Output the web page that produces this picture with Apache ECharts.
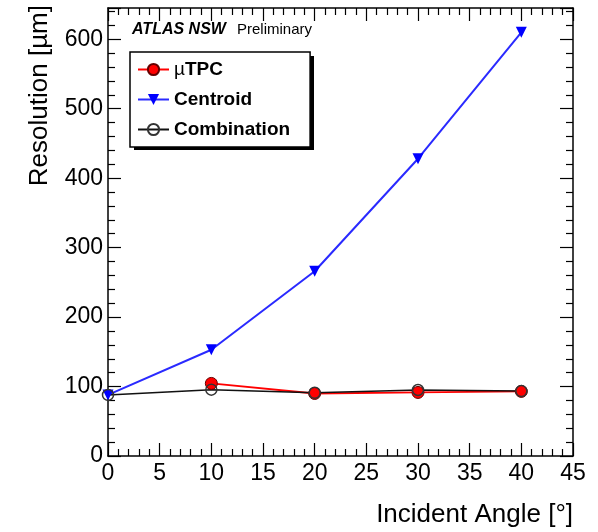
<!DOCTYPE html>
<html>
<head>
<meta charset="utf-8">
<script src="https://cdn.jsdelivr.net/npm/echarts@6/dist/echarts.min.js"></script>
<style>
  html, body { margin: 0; padding: 0; background: #fff; }
  #chart { width: 598px; height: 532px; }
</style>
</head>
<body>
<div id="chart"></div>
<script>
// angles [deg] and resolution [um]
var angles = [0, 10, 20, 30, 40];
var tpcAngles = [10, 20, 30, 40];
var tpcRes = [104.5, 90, 91.5, 93];
var centroidRes = [88, 153, 266, 428, 610];
var combRes = [88, 95.5, 91, 95, 93.5];

function pairs(xs, ys) {
    var out = [];
    for (var i = 0; i < xs.length; i++) {
        out.push([xs[i], ys[i]]);
    }
    return out;
}

var font = 'Liberation Sans, Arial, Helvetica, sans-serif';
var myChart = echarts.init(document.getElementById('chart'));

var tickX = { show: true, inside: true, length: 13, lineStyle: { color: '#000', width: 1.2 } };
var minorX = { show: true, splitNumber: 5, length: 7, lineStyle: { color: '#000', width: 1.2 } };
var axisLine = { show: true, onZero: false, lineStyle: { color: '#000', width: 1.5 } };

var option = {
    backgroundColor: '#fff',
    animation: false,
    grid: { left: 108, right: 25, top: 8, bottom: 76, containLabel: false },
    xAxis: [
        {
            type: 'value', min: 0, max: 45, interval: 5, position: 'bottom',
            axisLine: axisLine, axisTick: tickX, minorTick: minorX,
            splitLine: { show: false },
            axisLabel: { color: '#000', fontSize: 23, fontFamily: font, margin: 6 }
        },
        {
            type: 'value', min: 0, max: 45, interval: 5, position: 'top',
            axisLine: axisLine, axisTick: tickX, minorTick: minorX,
            splitLine: { show: false }, axisLabel: { show: false }
        }
    ],
    yAxis: [
        {
            type: 'value', min: 0, max: 645, interval: 100, position: 'left',
            axisLine: axisLine, axisTick: tickX, minorTick: minorX,
            splitLine: { show: false },
            axisLabel: { color: '#000', fontSize: 23, fontFamily: font, margin: 5, showMaxLabel: false }
        },
        {
            type: 'value', min: 0, max: 645, interval: 100, position: 'right',
            axisLine: axisLine, axisTick: tickX, minorTick: minorX,
            splitLine: { show: false }, axisLabel: { show: false }
        }
    ],
    legend: {
        orient: 'vertical',
        left: 130, top: 52, z: 10,
        padding: [8, 20, 8, 7],
        itemWidth: 31, itemHeight: 14, itemGap: 11,
        backgroundColor: '#fff',
        borderColor: '#000', borderWidth: 1.5,
        textStyle: {
            color: '#000', fontSize: 19, fontWeight: 'bold', fontFamily: font,
            rich: { m: { fontSize: 19, fontWeight: 'normal', fontFamily: font, color: '#000' } }
        },
        formatter: function (name) {
            if (name === 'µTPC') return '{m|µ}TPC';
            return name;
        },
        data: ['µTPC', 'Centroid', 'Combination']
    },
    graphic: [
        {
            // legend box shadow
            type: 'rect', z: 5,
            shape: { x: 134, y: 56, width: 180, height: 94 },
            style: { fill: '#000' }
        },
        {
            type: 'text', left: 132, top: 22,
            style: { text: 'ATLAS NSW', fontSize: 16, fontWeight: 'bold', fontStyle: 'italic', fontFamily: font, fill: '#000' }
        },
        {
            type: 'text', left: 237, top: 22,
            style: { text: 'Preliminary', fontSize: 15, fontFamily: font, fill: '#000' }
        },
        {
            type: 'text', x: 573, y: 502,
            style: { text: 'Incident Angle [°]', fontSize: 26, fontFamily: font, fill: '#000', align: 'right', verticalAlign: 'top' }
        },
        {
            type: 'text', x: 40, y: 5, rotation: Math.PI / 2,
            style: { text: 'Resolution [µm]', fontSize: 26, fontFamily: font, fill: '#000', align: 'right', verticalAlign: 'middle' }
        }
    ],
    series: [
        {
            name: 'Centroid', type: 'line', data: pairs(angles, centroidRes),
            symbol: 'triangle', symbolRotate: 180, symbolSize: 11,
            itemStyle: { color: '#0000ff' },
            lineStyle: { color: '#2a2aff', width: 2 }
        },
        {
            name: 'µTPC', type: 'line', data: pairs(tpcAngles, tpcRes),
            symbol: 'circle', symbolSize: 12,
            itemStyle: { color: '#ff0000', borderColor: '#660000', borderWidth: 1 },
            lineStyle: { color: '#ff0000', width: 1.8 }
        },
        {
            name: 'Combination', type: 'line', data: pairs(angles, combRes),
            symbol: 'circle', symbolSize: 11,
            itemStyle: { color: 'rgba(0,0,0,0)', borderColor: '#333', borderWidth: 1.5 },
            lineStyle: { color: '#111', width: 1.5 }
        }
    ]
};

myChart.setOption(option);
</script>
</body>
</html>
